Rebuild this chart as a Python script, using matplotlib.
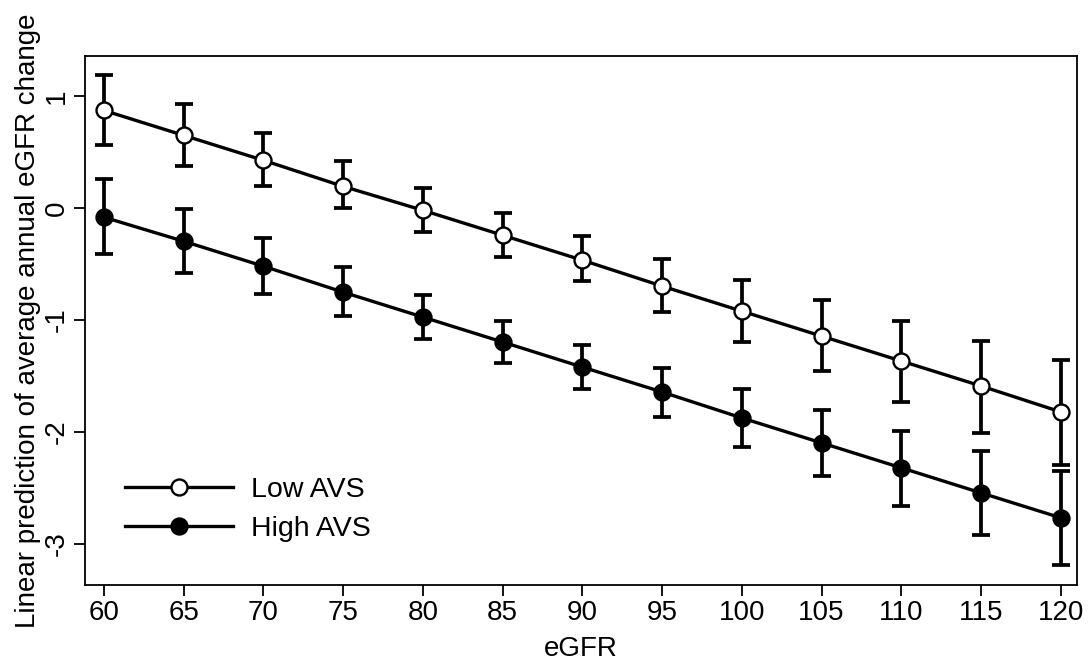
import matplotlib
matplotlib.use("Agg")
import matplotlib.pyplot as plt

plt.rcParams['font.family'] = ['Liberation Sans', 'DejaVu Sans']
plt.rcParams['axes.unicode_minus'] = False

egfr = [60, 65, 70, 75, 80, 85, 90, 95, 100, 105, 110, 115, 120]

low_mean = [0.875, 0.652, 0.429, 0.196, -0.018, -0.241, -0.464, -0.696, -0.920, -1.143, -1.366, -1.589, -1.821]
low_upper = [1.196, 0.929, 0.670, 0.420, 0.179, -0.045, -0.250, -0.455, -0.643, -0.821, -1.009, -1.188, -1.357]
low_lower = [0.563, 0.375, 0.196, 0.000, -0.214, -0.438, -0.652, -0.929, -1.196, -1.455, -1.732, -2.009, -2.295]

high_mean = [-0.080, -0.295, -0.518, -0.750, -0.973, -1.196, -1.420, -1.643, -1.875, -2.098, -2.321, -2.545, -2.768]
high_upper = [0.259, -0.009, -0.268, -0.527, -0.777, -1.009, -1.223, -1.429, -1.616, -1.804, -1.991, -2.170, -2.348]
high_lower = [-0.410, -0.580, -0.768, -0.964, -1.170, -1.384, -1.616, -1.866, -2.134, -2.393, -2.661, -2.920, -3.188]

x_ticks = [60, 65, 70, 75, 80, 85, 90, 95, 100, 105, 110, 115, 120]
y_ticks = [-3, -2, -1, 0, 1]

fig = plt.figure(figsize=(10.89, 6.63), dpi=100)
ax = fig.add_axes([85/1089, 78/663, (1077-85)/1089, (585-56)/663])

def draw(mean, lo, hi, face, label):
    yerr = [[m - l for m, l in zip(mean, lo)], [h - m for m, h in zip(mean, hi)]]
    ax.errorbar(egfr, mean, yerr=yerr, fmt='none', ecolor='black',
                elinewidth=2.7, capsize=6.5, capthick=2.7, zorder=2)
    ax.plot(egfr, mean, '-o', color='black', lw=2.4, markersize=11.5,
            markerfacecolor=face, markeredgecolor='black', markeredgewidth=1.7,
            zorder=3, label=label)

draw(low_mean, low_lower, low_upper, 'white', 'Low AVS')
draw(high_mean, high_lower, high_upper, 'black', 'High AVS')

ax.set_xlim(58.81, 121.02)
ax.set_ylim(-3.369, 1.362)
ax.set_xticks(x_ticks)
ax.set_yticks(y_ticks)
ax.set_yticklabels([str(t) for t in y_ticks], rotation=90, va='center')
ax.tick_params(direction='out', length=8, width=1.3, labelsize=20, colors='black', pad=3)
for s in ax.spines.values():
    s.set_linewidth(1.3)

ax.set_xlabel('eGFR', fontsize=20, labelpad=7)
ax.set_ylabel('Linear prediction of average annual eGFR change', fontsize=20, labelpad=2)

ax.legend(loc='lower left', bbox_to_anchor=(0.02, 0.044), frameon=False, fontsize=20.5,
          handlelength=3.8, handletextpad=0.63, labelspacing=0.45, numpoints=1,
          borderaxespad=0.3)

fig.savefig('out.png', dpi=100)
